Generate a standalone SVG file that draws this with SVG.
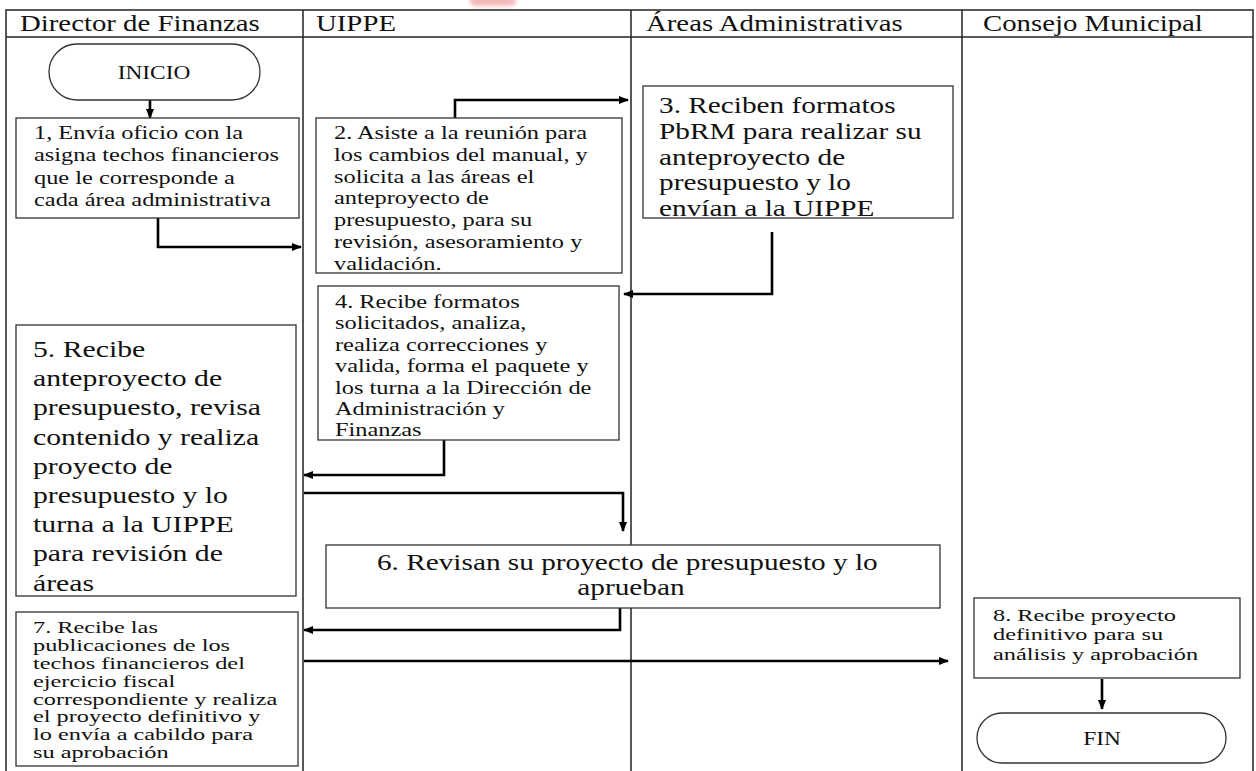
<svg xmlns="http://www.w3.org/2000/svg" width="1256" height="771" viewBox="0 0 1256 771">
  <style>
    .lane { fill: none; stroke: #222; stroke-width: 1.5; }
    .box { fill: #fff; stroke: #333; stroke-width: 1.3; }
    .term { fill: #fff; stroke: #333; stroke-width: 1.3; }
    .conn { fill: none; stroke: #000; stroke-width: 2.6; }
    text { font-family: "Liberation Serif", "Times New Roman", serif; fill: #111; }
    .hdr { font-size: 22.5px; }
    .sm { font-size: 19.5px; }
    .tight { font-size: 17px; }
    .lg { font-size: 24px; }
    .cap { font-size: 18px; }
  </style>
  <defs>
    <marker id="arrow" markerWidth="10" markerHeight="8" refX="9" refY="4" orient="auto" markerUnits="userSpaceOnUse">
      <path d="M0,0 L10,4 L0,8 Z" fill="#000"/>
    </marker>
    <filter id="soft" x="-50%" y="-50%" width="200%" height="200%">
      <feGaussianBlur stdDeviation="2"/>
    </filter>
  </defs>

  <rect width="1256" height="771" fill="#fff"/>
  <!-- faint pink mark at the top edge -->
  <rect x="470" y="-6" width="46" height="12" rx="5" fill="#f4b8b8" filter="url(#soft)"/>

  <!-- swimlane table -->
  <g id="lanes">
    <rect class="lane" x="6" y="10" width="1247" height="770"/>
    <line class="lane" x1="6" y1="37" x2="1253" y2="37"/>
    <line class="lane" x1="303" y1="10" x2="303" y2="771"/>
    <line class="lane" x1="631" y1="10" x2="631" y2="771"/>
    <line class="lane" x1="962" y1="10" x2="962" y2="771"/>
    <text class="hdr" transform="translate(20 31) scale(1.28 1)">Director de Finanzas</text>
    <text class="hdr" transform="translate(316 31) scale(1.28 1)">UIPPE</text>
    <text class="hdr" transform="translate(646 31) scale(1.28 1)">Áreas Administrativas</text>
    <text class="hdr" transform="translate(983 31) scale(1.28 1)">Consejo Municipal</text>
  </g>

  <!-- connectors -->
  <g id="connectors">
    <path class="conn" d="M150,100 V118" marker-end="url(#arrow)"/>
    <path class="conn" d="M158,218 V247 H301" marker-end="url(#arrow)"/>
    <path class="conn" d="M455,118 V100 H628" marker-end="url(#arrow)"/>
    <path class="conn" d="M772,232 V294 H624" marker-end="url(#arrow)"/>
    <path class="conn" d="M444,440 V475 H304" marker-end="url(#arrow)"/>
    <path class="conn" d="M304,493 H623 V531" marker-end="url(#arrow)"/>
    <path class="conn" d="M620,608 V630 H304" marker-end="url(#arrow)"/>
    <path class="conn" d="M304,661 H948" marker-end="url(#arrow)"/>
    <path class="conn" d="M1102,679 V709" marker-end="url(#arrow)"/>
  </g>

  <g id="inicio">
    <rect class="term" x="49" y="44" width="211" height="56" rx="28"/>
    <text class="cap" text-anchor="middle" transform="translate(154 79) scale(1.3 1)">INICIO</text>
  </g>

  <g id="step1">
    <rect class="box" x="16" y="118" width="283" height="100"/>
    <text class="sm" transform="translate(34 139) scale(1.25 1)">
      <tspan x="0" y="0">1, Envía oficio con la</tspan>
      <tspan x="0" y="22.4">asigna techos financieros</tspan>
      <tspan x="0" y="44.8">que le corresponde a</tspan>
      <tspan x="0" y="67.2">cada área administrativa</tspan>
    </text>
  </g>

  <g id="step2">
    <rect class="box" x="316" y="118" width="306" height="155"/>
    <text class="sm" transform="translate(334 139) scale(1.25 1)">
      <tspan x="0" y="0">2. Asiste a la reunión para</tspan>
      <tspan x="0" y="21.8">los cambios del manual, y</tspan>
      <tspan x="0" y="43.6">solicita a las áreas el</tspan>
      <tspan x="0" y="65.4">anteproyecto de</tspan>
      <tspan x="0" y="87.2">presupuesto, para su</tspan>
      <tspan x="0" y="109">revisión, asesoramiento y</tspan>
      <tspan x="0" y="130.8">validación.</tspan>
    </text>
  </g>

  <g id="step3">
    <rect class="box" x="643" y="86" width="310" height="132"/>
    <text class="lg" transform="translate(659 113) scale(1.22 1)">
      <tspan x="0" y="0">3. Reciben formatos</tspan>
      <tspan x="0" y="25.8">PbRM para realizar su</tspan>
      <tspan x="0" y="51.6">anteproyecto de</tspan>
      <tspan x="0" y="77.4">presupuesto y lo</tspan>
      <tspan x="0" y="103.2">envían a la UIPPE</tspan>
    </text>
  </g>

  <g id="step4">
    <rect class="box" x="318" y="286" width="301" height="154"/>
    <text class="sm" transform="translate(335 308) scale(1.25 1)">
      <tspan x="0" y="0">4. Recibe formatos</tspan>
      <tspan x="0" y="21.4">solicitados, analiza,</tspan>
      <tspan x="0" y="42.8">realiza correcciones y</tspan>
      <tspan x="0" y="64.2">valida, forma el paquete y</tspan>
      <tspan x="0" y="85.6">los turna a la Dirección de</tspan>
      <tspan x="0" y="107">Administración y</tspan>
      <tspan x="0" y="128.4">Finanzas</tspan>
    </text>
  </g>

  <g id="step5">
    <rect class="box" x="16" y="325" width="280" height="271"/>
    <text class="lg" transform="translate(33 357) scale(1.24 1)">
      <tspan x="0" y="0">5. Recibe</tspan>
      <tspan x="0" y="29.2">anteproyecto de</tspan>
      <tspan x="0" y="58.4">presupuesto, revisa</tspan>
      <tspan x="0" y="87.6">contenido y realiza</tspan>
      <tspan x="0" y="116.8">proyecto de</tspan>
      <tspan x="0" y="146">presupuesto y lo</tspan>
      <tspan x="0" y="175.2">turna a la UIPPE</tspan>
      <tspan x="0" y="204.4">para revisión de</tspan>
      <tspan x="0" y="233.6">áreas</tspan>
    </text>
  </g>

  <g id="step6">
    <rect class="box" x="326" y="545" width="614" height="63"/>
    <text class="lg" text-anchor="middle" transform="translate(631 570) scale(1.22 1)">
      <tspan x="0" y="0">6. Revisan su proyecto de presupuesto y lo</tspan>
      <tspan x="0" y="25">aprueban</tspan>
    </text>
  </g>

  <g id="step7">
    <rect class="box" x="16" y="612" width="282" height="154"/>
    <text class="tight" transform="translate(33 633) scale(1.43 1)">
      <tspan x="0" y="0">7. Recibe las</tspan>
      <tspan x="0" y="17.9">publicaciones de los</tspan>
      <tspan x="0" y="35.8">techos financieros del</tspan>
      <tspan x="0" y="53.7">ejercicio fiscal</tspan>
      <tspan x="0" y="71.6">correspondiente y realiza</tspan>
      <tspan x="0" y="89.5">el proyecto definitivo y</tspan>
      <tspan x="0" y="107.4">lo envía a cabildo para</tspan>
      <tspan x="0" y="125.3">su aprobación</tspan>
    </text>
  </g>

  <g id="step8">
    <rect class="box" x="974" y="598" width="266" height="80"/>
    <text class="tight" transform="translate(993 621) scale(1.43 1)">
      <tspan x="0" y="0">8. Recibe proyecto</tspan>
      <tspan x="0" y="19.5">definitivo para su</tspan>
      <tspan x="0" y="39">análisis y aprobación</tspan>
    </text>
  </g>

  <g id="fin">
    <rect class="term" x="977" y="713" width="249" height="50" rx="25"/>
    <text class="cap" text-anchor="middle" transform="translate(1102 745) scale(1.3 1)">FIN</text>
  </g>
</svg>
